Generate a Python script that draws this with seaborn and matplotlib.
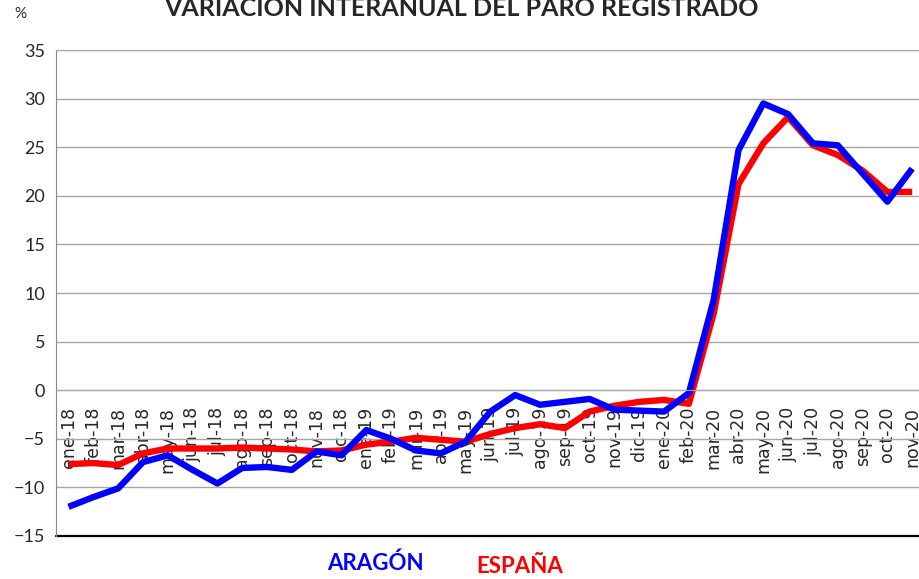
import numpy as np
import pandas as pd
import seaborn as sns
import matplotlib.pyplot as plt

# Data
months = ["ene-18", "feb-18", "mar-18", "abr-18", "may-18", "jun-18", "jul-18",
          "ago-18", "sep-18", "oct-18", "nov-18", "dic-18",
          "ene-19", "feb-19", "mar-19", "abr-19", "may-19", "jun-19", "jul-19",
          "ago-19", "sep-19", "oct-19", "nov-19", "dic-19",
          "ene-20", "feb-20", "mar-20", "abr-20", "may-20", "jun-20", "jul-20",
          "ago-20", "sep-20", "oct-20", "nov-20"]

aragon = [-12.0, -11.0, -10.1, -7.4, -6.7, -8.2, -9.6, -8.0, -7.9, -8.2, -6.3, -6.7,
          -4.1, -5.0, -6.2, -6.5, -5.3, -2.2, -0.5, -1.5, -1.2, -0.9, -2.0, -2.1,
          -2.2, -0.3, 9.3, 24.7, 29.5, 28.4, 25.4, 25.2, 22.3, 19.4, 22.8]

espana = [-7.6, -7.5, -7.7, -6.5, -6.0, -6.0, -6.0, -5.9, -6.0, -6.1, -6.3, -6.2,
          -5.6, -5.3, -4.9, -5.1, -5.3, -4.5, -3.9, -3.5, -3.9, -2.2, -1.6, -1.2,
          -1.0, -1.4, 7.9, 21.2, 25.4, 28.1, 25.2, 24.2, 22.6, 20.4, 20.4]

series_names = ["ESPAÑA", "ARAGÓN"]
series_colors = ["#ff0000", "#0000ff"]

df = pd.DataFrame({
    "mes": list(range(len(months))) * 2,
    "valor": espana + aragon,
    "serie": ["ESPAÑA"] * len(months) + ["ARAGÓN"] * len(months),
})

sns.set_style("white")
plt.rcParams["font.family"] = ["DejaVu Sans"]

fig = plt.figure(figsize=(9.2, 5.79), dpi=100)
ax = fig.add_axes([0.061, 0.0743, 0.944, 0.8393])

sns.lineplot(data=df, x="mes", y="valor", hue="serie", hue_order=series_names,
             palette=series_colors, linewidth=4.6, legend=False, ax=ax,
             solid_joinstyle="round", solid_capstyle="butt")

ax.set_xlim(-0.5, len(months) - 0.5)
ax.set_ylim(-15, 35)
ax.set_yticks(np.arange(-15, 36, 5))
ax.yaxis.grid(True, color="#a6a6a6", linewidth=1.0)
ax.set_axisbelow(True)

# category axis crosses at zero, labels hang below it
ax.spines["bottom"].set_position(("data", 0))
ax.spines["bottom"].set_color("#a6a6a6")
ax.spines["left"].set_color("#888888")
ax.spines["top"].set_color("#a6a6a6")
ax.spines["right"].set_visible(False)
ax.axhline(-15, color="black", linewidth=1.6, clip_on=False)

ax.set_xticks(range(len(months)))
ax.set_xticklabels(months, rotation=90, fontsize=12.5)
ax.tick_params(axis="x", length=0, pad=12)
ax.tick_params(axis="y", length=0, pad=8)
for lbl in ax.get_yticklabels():
    lbl.set_family("Lato")
    lbl.set_fontsize(13)
ax.set_xlabel("")
ax.set_ylabel("")

fig.text(0.502, 0.973, "VARIACIÓN INTERANUAL DEL PARO REGISTRADO", ha="center",
         va="baseline", fontsize=18, fontweight="bold", family="Lato")
fig.text(0.022, 0.975, "%", ha="center", va="center", fontsize=11, family="Lato")

fig.text(0.408, 0.028, "ARAGÓN", color="#0000ff", ha="center", va="center",
         fontsize=16, fontweight="bold", family="Lato")
fig.text(0.565, 0.022, "ESPAÑA", color="#ff0000", ha="center", va="center",
         fontsize=16, fontweight="bold", family="Lato")

fig.savefig("out.png", dpi=100)
